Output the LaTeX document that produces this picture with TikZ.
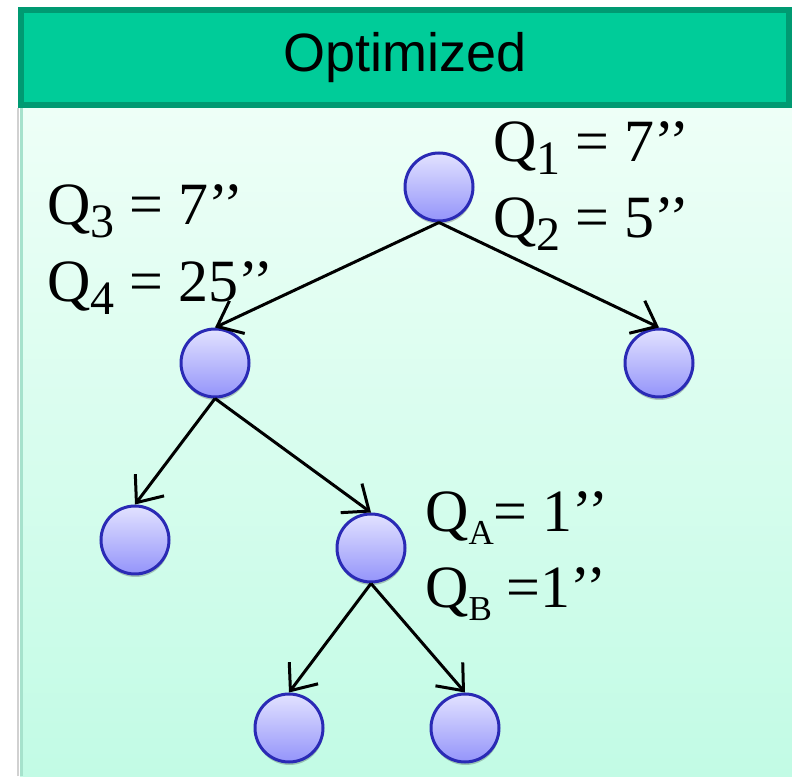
\documentclass[tikz,border=0pt]{standalone}
\usepackage{fontspec}
\setmainfont{Liberation Serif}
\newfontfamily\arl{Liberation Sans}
\usetikzlibrary{arrows.meta,shadows}
\definecolor{hdrfill}{HTML}{00CC99}
\definecolor{hdrline}{HTML}{009A72}
\definecolor{bodytop}{HTML}{EEFFF7}
\definecolor{bodybot}{HTML}{C2FBE5}
\definecolor{bodyedge}{HTML}{A6E2CC}
\definecolor{ctop}{HTML}{E2E2FF}
\definecolor{cbot}{HTML}{9494FA}
\definecolor{cline}{HTML}{2A2AB5}
\newcommand{\sbd}[1]{\raisebox{-13pt}{\fontsize{48}{48}\selectfont #1}}
\newcommand{\sbl}[1]{\raisebox{-13pt}{\fontsize{35}{35}\selectfont #1}}
\tikzset{
  tnode/.style={circle, minimum size=68pt, inner sep=0pt, draw=cline, line width=3pt,
    top color=ctop, bottom color=cbot,
    drop shadow={shadow xshift=0.5pt, shadow yshift=-3pt, fill=black, opacity=0.22}},
  arr/.style={line width=3pt, draw=black, -{Straight Barb[length=22pt,width=36pt,line width=3pt]}},
  lbl/.style={anchor=base west, inner sep=0pt, font=\fontsize{60}{60}\selectfont}
}
\begin{document}
\begin{tikzpicture}[x=1pt,y=1pt]
\useasboundingbox (0,0) rectangle (792,776);
% body
\shade[top color=bodytop, bottom color=bodybot] (20,0) rectangle (792,668);
\draw[black!18, line width=2pt] (18,0) -- (18,668);
\draw[bodyedge, line width=3pt] (21.5,0) -- (21.5,668);
% header
\node[draw=hdrline, fill=hdrfill, line width=6pt, minimum width=768pt, minimum height=95pt,
  inner sep=0pt] (hdr) at (405,718.5) {};
\node[anchor=base, inner sep=0pt, font=\arl\fontsize{54}{54}\selectfont] (title) at (405,704) {Optimized};
% tree nodes
\node[tnode] (root) at (439,589) {};
\node[tnode] (L) at (215,413) {};
\node[tnode] (R) at (659,413) {};
\node[tnode] (LL) at (135,236) {};
\node[tnode] (LR) at (371,228) {};
\node[tnode] (BL) at (289,48) {};
\node[tnode] (BR) at (465,48) {};
% connectors
\draw[arr] (root.south) -- (L.north);
\draw[arr] (root.south) -- (R.north);
\draw[arr] (L.south) -- (LL.north);
\draw[arr] (L.south) -- (LR.north);
\draw[arr] (LR.south) -- (BL.north);
\draw[arr] (LR.south) -- (BR.north);
% labels
\node[lbl] (q1) at (493,614) {Q\sbd{1} = 7’’};
\node[lbl] (q2) at (493,538) {Q\sbd{2} = 5’’};
\node[lbl] (q3) at (47,551) {Q\sbd{3} = 7’’};
\node[lbl] (q4) at (47,474) {Q\sbd{4} = 25’’};
\node[lbl] (qa) at (425,244) {Q\sbl{A}= 1’’};
\node[lbl] (qb) at (425,168) {Q\sbl{B} =1’’};
\end{tikzpicture}
\end{document}
